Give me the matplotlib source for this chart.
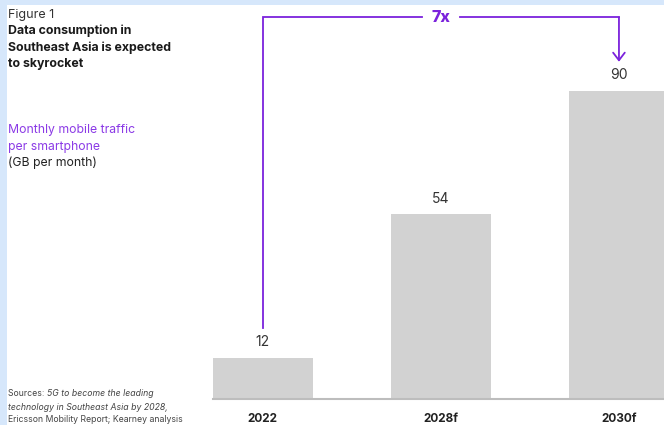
import matplotlib.pyplot as plt
from matplotlib.patches import Rectangle

plt.rcParams['font.family'] = ['Inter', 'DejaVu Sans']

years = ['2022', '2028f', '2030f']
traffic = [12, 54, 90]
growth_label = '7x'

W, H = 664, 425
PURPLE = '#7b22dc'
SUB_PURPLE = '#8b3ae6'
BAR = '#d2d2d2'

fig = plt.figure(figsize=(W / 100, H / 100), dpi=100)
fig.patch.set_facecolor('#d6e7fb')
fig.patches.append(Rectangle((7 / W, 0), 1, 1 - 5 / H, transform=fig.transFigure,
                             facecolor='white', edgecolor='none', zorder=-1))


def px(x, y):
    return x / W, 1 - y / H


ax = fig.add_axes([213 / W, 26 / H, (W - 213) / W, 394 / H])
ax.patch.set_alpha(0)
x = range(len(years))
ax.bar(x, traffic, width=0.56, color=BAR, zorder=2)
ax.set_xlim(-0.28, 2.253)
ax.set_ylim(0, 115.2)
for s in ['top', 'right', 'left']:
    ax.spines[s].set_visible(False)
ax.spines['bottom'].set_color('#bdbdbd')
ax.spines['bottom'].set_linewidth(1.5)
ax.set_yticks([])
ax.set_xticks(list(x))
ax.set_xticklabels(years, fontweight='bold', fontsize=8.5, color='#222222')
ax.tick_params(axis='x', length=0, pad=10)

for i, v in enumerate(traffic):
    ax.text(i, v + 4.6, str(v), ha='center', va='center', fontsize=10, color='#333333')

# bracket showing growth
top = 111.6
low = traffic[0] + 8.8
tip = traffic[-1] + 8.6
gap = 0.105
mid = (len(years) - 1) / 2
ax.plot([0, 0, mid - gap], [low, top, top], color=PURPLE, lw=1.3, clip_on=False,
        solid_joinstyle='miter')
ax.plot([mid + gap, 2], [top, top], color=PURPLE, lw=1.3, clip_on=False)
ax.annotate('', xy=(2, tip), xytext=(2, top),
            arrowprops=dict(arrowstyle='->,head_length=0.55,head_width=0.42',
                            color=PURPLE, lw=1.3, shrinkA=0, shrinkB=0),
            annotation_clip=False)
ax.text(mid, top, growth_label, ha='center', va='center', fontsize=11.5,
        fontweight='heavy', color=PURPLE)

# left side texts
fig.text(*px(8, 15), 'Figure 1', fontsize=9, color='#333333', va='center')
for j, line in enumerate(['Data consumption in', 'Southeast Asia is expected', 'to skyrocket']):
    fig.text(*px(8, 31 + j * 16.5), line, fontsize=8.9, fontweight='bold',
             color='#1a1a1a', va='center')
fig.text(*px(8, 130), 'Monthly mobile traffic', fontsize=8.8, color=SUB_PURPLE, va='center')
fig.text(*px(8, 147), 'per smartphone', fontsize=8.8, color=SUB_PURPLE, va='center')
fig.text(*px(8, 163), '(GB per month)', fontsize=8.8, color='#222222', va='center')

# sources, with the report title in italics
t1 = fig.text(*px(8, 394), 'Sources: ', fontsize=6.25, color='#444444', va='center')
ax.annotate('5G to become the leading', xy=(1, 0.5), xycoords=t1, fontsize=6.25,
            style='italic', color='#444444', va='center', ha='left',
            annotation_clip=False)
fig.text(*px(8, 407), 'technology in Southeast Asia by 2028,', fontsize=6.25,
         style='italic', color='#444444', va='center')
fig.text(*px(8, 420), 'Ericsson Mobility Report; Kearney analysis', fontsize=6.25,
         color='#444444', va='center')

fig.savefig('out.png', dpi=100)
